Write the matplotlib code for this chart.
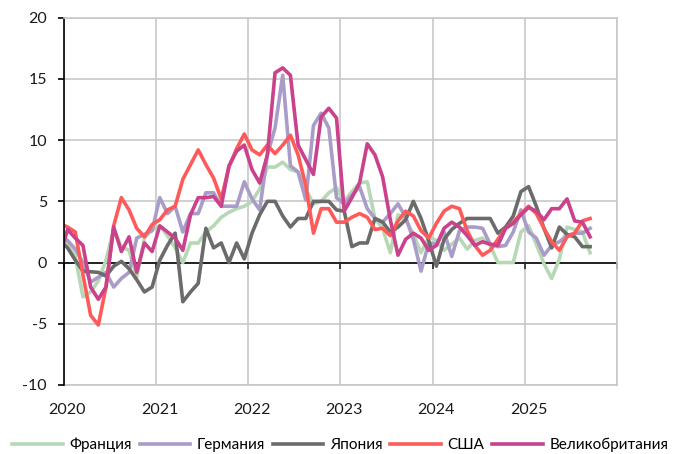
# -*- coding: utf-8 -*-

import numpy as np
import matplotlib.pyplot as plt

# monthly values, Dec 2019 .. Sep 2025
france = [2.0, 1.5, 0.5, -2.8, -2.4, -1.5, 0.2, 2.7, 1.3, 1.0, -1.2, 2.0, 2.7, 3.0, 2.2, 1.2,
          0.0, 1.6, 1.6, 2.5, 3.0, 3.7, 4.1, 4.4, 4.6, 5.0, 6.0, 7.8, 7.8, 8.2, 7.6, 7.4,
          6.0, 4.8, 5.0, 5.7, 6.1, 5.0, 5.8, 6.5, 6.6, 3.6, 2.8, 0.8, 3.9, 3.5, 2.3, 0.8,
          2.1, 1.8, 1.0, 1.5, 2.0, 1.1, 1.8, 2.0, 1.4, 0.0, 0.0, 0.0, 2.5, 3.0, 1.5, -0.1,
          -1.3, 0.3, 2.9, 2.7, 2.5, 0.8]
germany = [2.1, 1.8, 1.1, 0.0, -1.6, -1.2, -0.8, -2.0, -1.3, -0.8, 2.0, 2.3, 2.6, 5.3, 4.0, 4.6,
           2.5, 4.0, 4.0, 5.7, 5.7, 4.6, 4.6, 4.6, 6.6, 5.2, 4.3, 8.8, 11.0, 15.3, 7.9, 7.4,
           5.1, 11.2, 12.2, 11.0, 5.3, 4.8, 5.5, 6.2, 4.4, 3.6, 3.3, 4.0, 4.8, 3.7, 1.9, -0.7,
           1.6, 1.5, 2.5, 0.5, 2.6, 2.9, 2.9, 2.8, 1.5, 1.3, 1.4, 2.5, 4.3, 2.5, 2.0, 0.6,
           1.4, 1.7, 2.2, 2.4, 2.4, 2.8]
japan = [1.8, 1.2, 0.2, -0.7, -0.75, -0.8, -1.1, -0.3, 0.1, -0.5, -1.4, -2.4, -2.0, 0.2, 1.4, 2.4,
         -3.2, -2.4, -1.7, 2.8, 1.2, 1.6, 0.0, 1.6, 0.3, 2.4, 3.9, 5.0, 5.0, 3.8, 2.9, 3.6,
         3.6, 5.0, 5.0, 5.0, 4.3, 4.2, 1.3, 1.6, 1.6, 3.6, 3.3, 2.5, 2.9, 3.5, 5.0, 3.6,
         1.8, -0.3, 1.9, 2.7, 3.2, 3.6, 3.6, 3.6, 3.6, 2.4, 2.9, 3.8, 5.8, 6.2, 4.6, 2.8,
         1.2, 2.9, 2.3, 2.1, 1.3, 1.3]
usa = [3.2, 2.9, 2.5, -1.0, -4.3, -5.1, -2.0, 3.0, 5.3, 4.3, 2.8, 2.1, 3.1, 3.5, 4.3, 4.6,
       6.8, 8.0, 9.2, 8.0, 6.9, 5.2, 7.8, 9.3, 10.5, 9.2, 8.8, 9.6, 8.9, 9.6, 10.4, 8.8,
       6.3, 2.4, 4.4, 4.4, 3.3, 3.3, 3.7, 4.0, 3.7, 2.7, 2.8, 2.2, 3.4, 4.2, 3.8, 2.6,
       2.0, 3.2, 4.2, 4.6, 4.4, 2.6, 1.4, 0.6, 1.0, 1.9, 2.8, 3.3, 4.0, 4.6, 4.0, 2.8,
       1.7, 1.0, 2.1, 2.4, 3.4, 3.6]
uk = [0.6, 2.7, 2.0, 1.4, -2.0, -3.0, -2.0, 2.9, 0.9, 2.1, -0.8, 1.6, 0.9, 3.0, 2.5, 2.0,
      1.0, 3.9, 5.3, 5.3, 5.4, 4.6, 7.9, 9.1, 9.6, 7.6, 6.5, 8.8, 15.5, 15.9, 15.3, 9.6,
      8.4, 7.2, 11.9, 12.6, 11.8, 4.2, 5.3, 6.5, 9.7, 8.8, 7.0, 3.5, 0.6, 1.9, 2.4, 2.0,
      1.0, 1.4, 2.8, 3.3, 2.9, 2.2, 1.4, 1.7, 1.5, 1.4, 2.8, 3.2, 3.9, 4.5, 4.2, 3.5,
      4.4, 4.4, 5.2, 3.4, 3.3, 2.1]

names = ['Франция', 'Германия', 'Япония', 'США', 'Великобритания']
colors = ['#B7D8B5', '#A99CC8', '#6B6B6B', '#FF5A5A', '#C9428B']
years = [2020, 2021, 2022, 2023, 2024, 2025]

plt.rcParams['font.family'] = ['Lato', 'DejaVu Sans']
plt.rcParams['axes.unicode_minus'] = False
grid_c = '#C8C8C8'

months = np.arange(len(usa))
x = 2020 + (months - 0.5) / 12.0

fig = plt.figure(figsize=(6.78, 4.54), dpi=100)
ax = fig.add_axes((0.094, 0.152, 0.816, 0.809))

for vals, name, c in zip([france, germany, japan, usa, uk], names, colors):
    ax.plot(x, vals, color=c, lw=2.6, label=name)

ax.set_xlim(2020, 2026)
ax.set_ylim(-10, 20)
ax.set_xticks(range(2020, 2027))
ax.set_yticks(range(-10, 21, 5))
ax.grid(color=grid_c, lw=1.2)
ax.set_axisbelow(True)

ax.spines['left'].set_color('black')
ax.spines['left'].set_linewidth(1.2)
ax.spines['bottom'].set_position(('data', 0))
ax.spines['bottom'].set_color('#222222')
ax.spines['bottom'].set_linewidth(1.4)
ax.spines['bottom'].set_zorder(1.5)
for s in ['top', 'right']:
    ax.spines[s].set_color(grid_c)
    ax.spines[s].set_linewidth(1.2)

ax.tick_params(axis='x', direction='out', length=4, width=1.2, color='#222222', labelbottom=False)
ax.tick_params(axis='y', direction='out', length=4, width=1.2, color='black',
               labelsize=11.5, labelcolor='#1A1A1A', pad=8)

# year labels sit a little right of the gridlines, as in the original
sec = ax.secondary_xaxis('bottom')
sec.set_xticks([y + 0.04 for y in years])
sec.set_xticklabels([str(y) for y in years])
sec.tick_params(length=0, labelsize=11.5, labelcolor='#1A1A1A', pad=13)
sec.spines['bottom'].set_color(grid_c)
sec.spines['bottom'].set_linewidth(1.2)

fig.legend(loc='center', bbox_to_anchor=(0.502, 0.02), ncol=5, frameon=False,
           fontsize=11, handlelength=3.3, handletextpad=0.45, columnspacing=0.5)

fig.savefig('out.png', dpi=100)
